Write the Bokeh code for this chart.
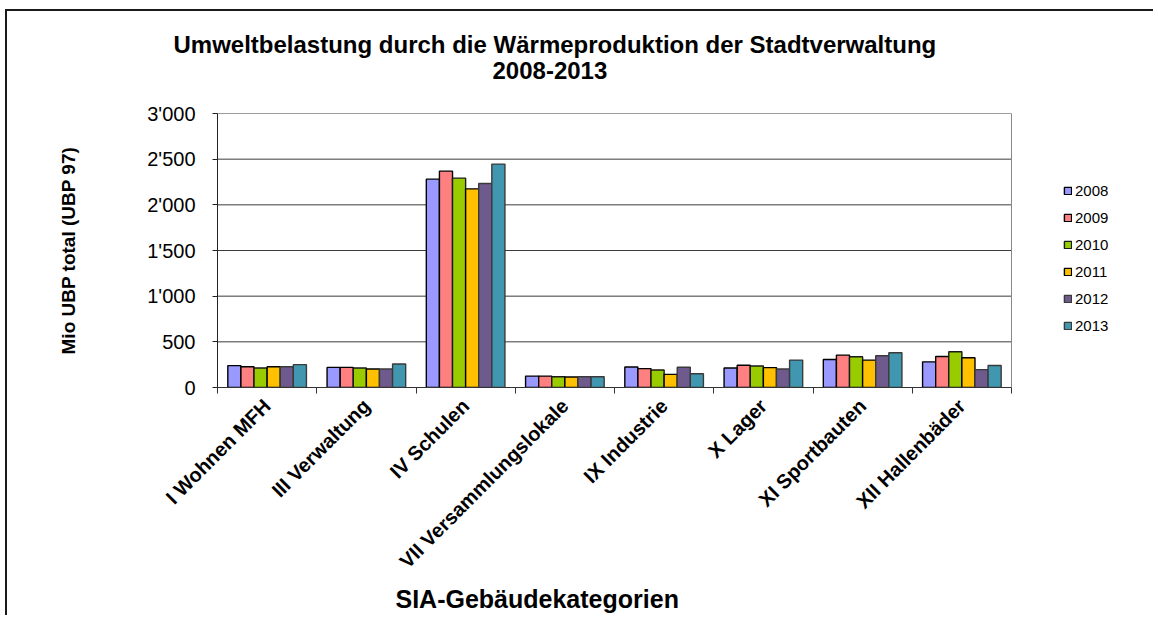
from bokeh.plotting import figure
from bokeh.models import (Range1d, FixedTicker, Legend, LegendItem, Title, ColumnDataSource)
from bokeh.transform import dodge
from bokeh.embed import file_html
from bokeh.resources import INLINE
import math

categories = ["I Wohnen MFH", "III Verwaltung", "IV Schulen", "VII Versammlungslokale",
              "IX Industrie", "X Lager", "XI Sportbauten", "XII Hallenbäder"]
years = ["2008", "2009", "2010", "2011", "2012", "2013"]
v2008 = [239, 220, 2281, 125, 225, 214, 307, 281]
v2009 = [228, 220, 2369, 125, 207, 244, 355, 340]
v2010 = [213, 213, 2292, 118, 192, 236, 337, 392]
v2011 = [228, 202, 2175, 115, 144, 218, 300, 326]
v2012 = [228, 202, 2233, 118, 222, 203, 348, 196]
v2013 = [250, 257, 2446, 118, 151, 300, 381, 241]
y_ticks = [0, 500, 1000, 1500, 2000, 2500, 3000]

series = [v2008, v2009, v2010, v2011, v2012, v2013]
colors = ["#9999FF", "#FF8080", "#99CC00", "#FFC000", "#6F5A8E", "#4197AF"]
line_colors = ["#000000", "#000000", "#1a1a1a", "#000000", "#3a3a3a", "#3a3a3a"]

FONT = "Liberation Sans"

ncat = len(categories)
centers = [i + 0.5 for i in range(ncat)]
bounds = [i for i in range(ncat + 1)]

# layout (pixels)
W, H = 1148, 606
B_LEFT, B_TOP, B_BOTTOM, B_RIGHT = 210, 102, 230, 5
PLOT_W = 794  # pixel width of the category area
frame_w = W - B_LEFT - B_RIGHT
x_end = ncat * frame_w / PLOT_W

data = {"x": centers}
for y, s in zip(years, series):
    data["y" + y] = s
src = ColumnDataSource(data)

p = figure(width=W, height=H, output_backend="svg", toolbar_location=None,
           x_range=Range1d(0, x_end), y_range=Range1d(0, 3000),
           min_border_left=B_LEFT, min_border_right=B_RIGHT, min_border_top=B_TOP,
           min_border_bottom=B_BOTTOM, title=None)
p.styles = {"border-left": "2px solid #1a1a1a", "border-top": "2px solid #1a1a1a",
            "margin-left": "5px", "margin-top": "9px"}

# horizontal grid lines, limited to the category area
p.xgrid.grid_line_color = None
p.ygrid.grid_line_color = None
p.segment(x0=[0] * len(y_ticks[1:]), x1=[ncat] * len(y_ticks[1:]), y0=y_ticks[1:], y1=y_ticks[1:],
          line_color="#3c3c3c", line_width=1)
# right edge of the plot area
p.segment(x0=[ncat], x1=[ncat], y0=[0], y1=[y_ticks[-1]], line_color="#888888", line_width=1)

bw = 0.132
items = []
for k, (y, c, lc) in enumerate(zip(years, colors, line_colors)):
    off = (k - 2.5) * bw
    r = p.vbar(x=dodge("x", off), top="y" + y, width=bw, bottom=0, source=src,
               fill_color=c, line_color=lc, line_width=1.4)
    items.append(LegendItem(label=y, renderers=[r]))

# axes
xa = p.xaxis[0]
xa.bounds = (0, ncat)
xa.ticker = FixedTicker(ticks=centers, minor_ticks=bounds)
xa.major_label_overrides = {c: lab for c, lab in zip(centers, categories)}
xa.major_tick_line_color = None
xa.minor_tick_line_color = "#333333"
xa.minor_tick_out = 6
xa.minor_tick_in = 0
xa.major_label_orientation = math.pi / 4
xa.major_label_text_font = FONT
xa.major_label_text_font_style = "bold"
xa.major_label_text_font_size = "20px"
xa.major_label_text_color = "#000000"
xa.major_label_standoff = 9
xa.axis_line_color = "#333333"

ya = p.yaxis[0]
ya.ticker = FixedTicker(ticks=y_ticks, minor_ticks=[])
ya.major_label_overrides = {t: f"{t:,}".replace(",", "'") for t in y_ticks}
ya.major_tick_out = 5
ya.major_tick_in = 0
ya.major_tick_line_color = "#222222"
ya.axis_line_color = "#222222"
ya.major_label_text_font = FONT
ya.major_label_text_font_size = "20px"
ya.major_label_text_color = "#000000"
ya.major_label_standoff = 17
ya.axis_label = "Mio UBP total (UBP 97)"
ya.axis_label_text_font = FONT
ya.axis_label_text_font_size = "19px"
ya.axis_label_text_font_style = "bold"
ya.axis_label_text_color = "#000000"
ya.axis_label_standoff = 65

p.outline_line_color = None
p.background_fill_color = "white"
p.border_fill_color = "white"

# titles (spacer first, then line 2, then line 1 further up)
spacer = Title(text=" ", text_font=FONT, text_font_size="28px", text_color="white", standoff=0)
t2 = Title(text="2008-2013", align="left", offset=275, text_font=FONT,
           text_font_size="24px", text_font_style="bold", text_color="#000000", standoff=4)
t1 = Title(text="Umweltbelastung durch die Wärmeproduktion der Stadtverwaltung", align="left",
           offset=-44, text_font=FONT, text_font_size="24px", text_font_style="bold",
           text_color="#000000", standoff=0)
p.add_layout(spacer, "above")
p.add_layout(t2, "above")
p.add_layout(t1, "above")

xt = Title(text="SIA-Gebäudekategorien", align="left", offset=178, text_font=FONT,
           text_font_size="25px", text_font_style="bold", text_color="#000000", standoff=0)
p.add_layout(xt, "below")

legend = Legend(items=items, location=(846, 52), orientation="vertical",
                label_text_font=FONT, label_text_font_size="15px", label_text_color="#000000",
                glyph_width=9, glyph_height=9, label_standoff=3, label_height=20, spacing=7,
                padding=0, margin=0, border_line_color=None, background_fill_alpha=0)
p.add_layout(legend, "center")

open("out.html", "w").write(file_html(p, INLINE))
